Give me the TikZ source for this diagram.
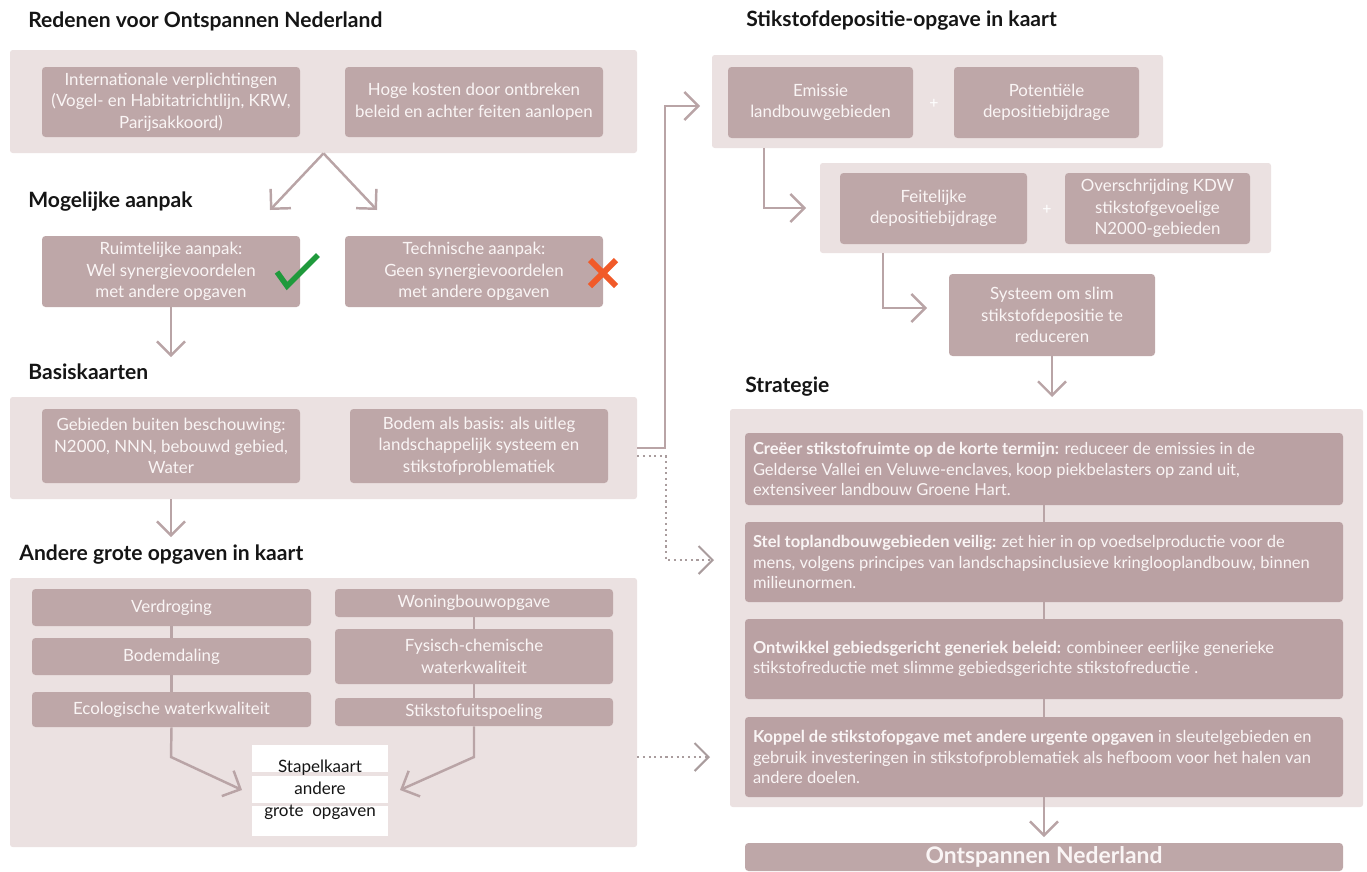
\documentclass[tikz,border=0pt]{standalone}
\usepackage{fontspec}
\setmainfont{Lato}
\usetikzlibrary{arrows.meta,calc}
\definecolor{ONPanel}{HTML}{EBE1E1}
\definecolor{ONTile}{HTML}{BEA7A8}
\definecolor{ONTileDark}{HTML}{BAA1A3}
\definecolor{ONLine}{HTML}{B9A4A6}
\definecolor{ONDots}{HTML}{A99C9D}
\definecolor{ONInk}{HTML}{151515}
\definecolor{ONText}{HTML}{FAF5F5}
\definecolor{ONGreen}{HTML}{1F9A3C}
\definecolor{ONRed}{HTML}{F15A29}

\tikzset{
  % a node spanning the pixel box (x1,y1)-(x2,y2)
  span/.style n args={4}{at={({(#1+#3)/2},{(#2+#4)/2})},
    minimum width={(#3-#1)*0.2mm},minimum height={(#4-#2)*0.2mm}},
  panel/.style={fill=ONPanel,rounded corners=1.5pt,inner sep=0pt},
  tile/.style={fill=ONTile,rounded corners=2pt,inner sep=0pt,text=ONText,
    align=center,font=\fontsize{9.6}{12.3}\selectfont},
  strat/.style={tile,fill=ONTileDark,align=flush left,text width=116.4mm,
    font=\fontsize{9.4}{11.5}\selectfont},
  head/.style={anchor=west,inner sep=0pt,text=ONInk,
    font=\fontsize{12}{14}\selectfont\bfseries},
  flow/.style={draw=ONLine,line width=1.4pt,
    -{Straight Barb[length=2.8mm,width=5.6mm]}},
  link/.style={draw=ONLine,line width=1.4pt},
  hint/.style={draw=ONDots,line width=1.2pt,dash pattern=on 1.2pt off 2pt,
    -{Straight Barb[length=2.8mm,width=5.6mm]}}
}

\begin{document}
\begin{tikzpicture}[x=0.2mm,y=-0.2mm]
  \path[use as bounding box] (0,0) rectangle (1367,871);

  % Section headings
  \node[head] (hReden) at (28,21) {Redenen voor Ontspannen Nederland};
  \node[head] (hAanpak) at (28,202) {Mogelijke aanpak};
  \node[head] (hBasis) at (28,372) {Basiskaarten};
  \node[head] (hOpgaven) at (19,555) {Andere grote opgaven in kaart};
  \node[head] (hDepositie) at (746,21) {Stikstofdepositie-opgave in kaart};
  \node[head] (hStrategie) at (745,387) {Strategie};

  % Left column: reasons, approach and base maps
  \node[panel,span={10}{50}{637}{153}] (pReden) {};
  \node[tile,span={42}{67}{300}{137}] (intl)
    {Internationale verplichtingen\\(Vogel- en Habitatrichtlijn, KRW,\\Parijsakkoord)};
  \node[tile,span={345}{67}{603}{137}] (kosten)
    {Hoge kosten door ontbreken\\beleid en achter feiten aanlopen};

  \node[tile,span={42}{236}{300}{307}] (ruimte)
    {Ruimtelijke aanpak:\\Wel synergievoordelen\\met andere opgaven};
  \node[tile,span={345}{236}{603}{307}] (techn)
    {Technische aanpak:\\Geen synergievoordelen\\met andere opgaven};
  \draw[ONGreen,line width=1.1mm] (277,272) -- (287,286) -- (318,255);
  \draw[ONRed,line width=1.2mm] (590,260) -- (616,286) (590,286) -- (616,260);

  \node[panel,span={10}{397}{637}{499}] (pBasis) {};
  \node[tile,span={42}{409}{300}{483}] (gebied)
    {Gebieden buiten beschouwing:\\N2000, NNN, bebouwd gebied,\\Water};
  \node[tile,span={350}{409}{608}{483}] (bodem)
    {Bodem als basis: als uitleg\\landschappelijk systeem en\\stikstofproblematiek};

  % Other large tasks, stacked into one map
  \node[panel,span={10}{578}{637}{847}] (pOpg) {};
  \node[tile,span={32}{589}{311}{626}] (verdr) {Verdroging};
  \node[tile,span={32}{638}{311}{675}] (daling) {Bodemdaling};
  \node[tile,span={32}{692}{311}{727}] (ecol) {Ecologische waterkwaliteit};
  \node[tile,span={335}{589}{613}{617}] (woning) {Woningbouwopgave};
  \node[tile,span={335}{629}{613}{684}] (fysch) {Fysisch-chemische\\waterkwaliteit};
  \node[tile,span={335}{698}{613}{726}] (uitsp) {Stikstofuitspoeling};

  \fill[white] (252,745) rectangle (388,772);
  \fill[white] (252,776) rectangle (388,803);
  \fill[white] (252,806) rectangle (388,836);
  \node[align=center,inner sep=0pt,text=ONInk,font=\fontsize{9.7}{12.5}\selectfont]
    (stapel) at (320,790) {Stapelkaart\\andere\\grote\ \ opgaven};

  % Right column: deposition task
  \node[panel,span={712}{55}{1163}{148}] (pDep) {};
  \node[tile,span={728}{67}{913}{138}] (emis) {Emissie\\landbouwgebieden};
  \node[tile,span={954}{67}{1139}{138}] (poten) {Potentiële\\depositiebijdrage};
  \node[text=white,font=\small] (plusA) at (934,104) {+};

  \node[panel,span={820}{163}{1271}{253}] (pFeit) {};
  \node[tile,span={840}{173}{1027}{244}] (feit) {Feitelijke\\depositiebijdrage};
  \node[tile,span={1065}{173}{1250}{244}] (overs)
    {Overschrijding KDW\\stikstofgevoelige\\N2000-gebieden};
  \node[text=white,font=\small] (plusB) at (1047,210) {+};

  \node[tile,span={949}{274}{1155}{356}] (syst)
    {Systeem om slim\\stikstofdepositie te\\reduceren};

  % Strategy
  \node[panel,span={730}{409}{1363}{807}] (pStrat) {};
  \node[strat,span={745}{433}{1343}{505}] (s1)
    {\textbf{Creëer stikstofruimte op de korte termijn:} reduceer de emissies in de\\
     Gelderse Vallei en Veluwe-enclaves, koop piekbelasters op zand uit,\\
     extensiveer landbouw Groene Hart.};
  \node[strat,span={745}{522}{1343}{602}] (s2)
    {\textbf{Stel toplandbouwgebieden veilig:} zet hier in op voedselproductie voor de\\
     mens, volgens principes van landschapsinclusieve kringlooplandbouw, binnen\\
     milieunormen.};
  \node[strat,span={745}{619}{1343}{699}] (s3)
    {\textbf{Ontwikkel gebiedsgericht generiek beleid:} combineer eerlijke generieke\\
     stikstofreductie met slimme gebiedsgerichte stikstofreductie .};
  \node[strat,span={745}{717}{1343}{797}] (s4)
    {\textbf{Koppel de stikstofopgave met andere urgente opgaven} in sleutelgebieden en\\
     gebruik investeringen in stikstofproblematiek als hefboom voor het halen van\\
     andere doelen.};
  \node[tile,span={745}{843}{1343}{871},font=\fontsize{13}{15}\selectfont\bfseries]
    (doel) {Ontspannen Nederland};

  % Free ends of the connectors
  \coordinate (splitL) at (270,210);
  \coordinate (splitR) at (377,210);
  \coordinate (basisTip) at (171,357);
  \coordinate (opgTip) at (171,537);
  \coordinate (bendL) at (171,757);
  \coordinate (bendR) at (474,757);
  \coordinate (stapelL) at (242,790);
  \coordinate (stapelR) at (400,790);
  \coordinate (riseTurn) at (665,106);
  \coordinate (riseTip) at (700,106);
  \coordinate (hintTurn) at (666,560);
  \coordinate (hintTipA) at (714,560);
  \coordinate (hintTipB) at (710,757);
  \coordinate (dTurn) at (764,208);
  \coordinate (dTip) at (806,208);
  \coordinate (eTurn) at (883,308);
  \coordinate (eTip) at (927,308);
  \coordinate (systTip) at (1052,397);
  \coordinate (doelTip) at (1044,837);

  % Connectors
  \draw[flow] (pReden.south) -- (splitL);
  \draw[flow] (pReden.south) -- (splitR);
  \draw[flow] (ruimte.south) -- (basisTip);
  \draw[flow] (gebied.south |- pBasis.south) -- (opgTip);

  \draw[link] (verdr) -- (daling);
  \draw[link] (daling) -- (ecol);
  \draw[link] (woning) -- (fysch);
  \draw[link] (fysch) -- (uitsp);
  \draw[flow] (ecol.south) -- (bendL) -- (stapelL);
  \draw[flow] (uitsp.south) -- (bendR) -- (stapelR);

  \draw[flow] (pBasis.east) -| (riseTurn) -- (riseTip);
  \draw[hint] ([yshift=-1.6mm]pBasis.east) -| (hintTurn) -- (hintTipA);
  \draw[hint] (pOpg.east |- hintTipB) -- (hintTipB);

  \draw[flow] (dTurn |- pDep.south) -- (dTurn) -- (dTip);
  \draw[flow] (eTurn |- pFeit.south) -- (eTurn) -- (eTip);
  \draw[flow] (syst.south) -- (systTip);

  \draw[link] (s1) -- (s2);
  \draw[link] (s2) -- (s3);
  \draw[link] (s3) -- (s4);
  \draw[flow] (s4.south) -- (doelTip);
\end{tikzpicture}
\end{document}
